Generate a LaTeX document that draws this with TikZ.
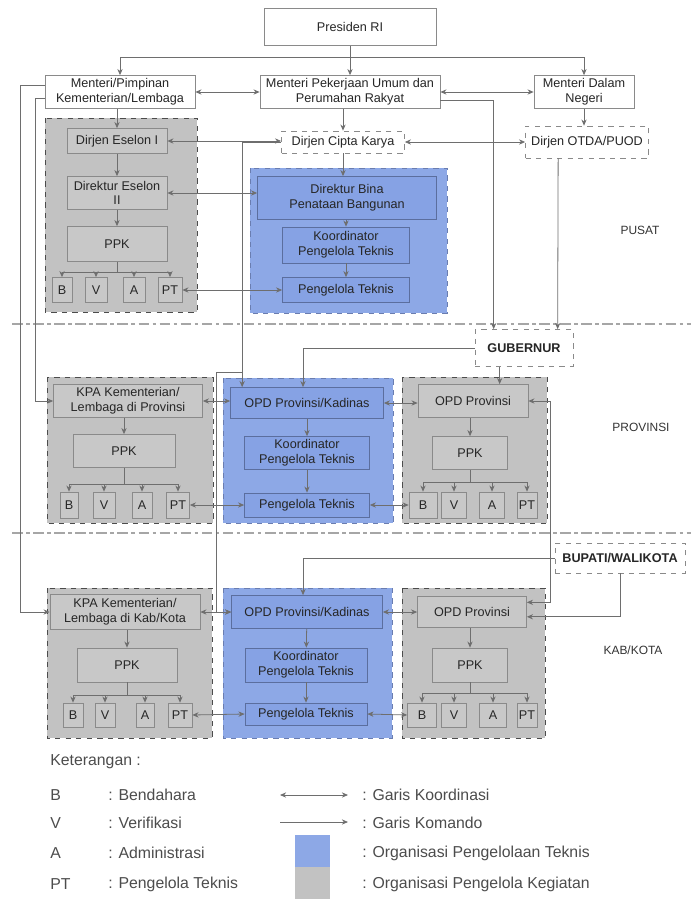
\documentclass[tikz,border=0pt]{standalone}
\usepackage{fontspec}
\setmainfont{Liberation Sans}
\usetikzlibrary{arrows.meta,calc}
\definecolor{panelgray}{HTML}{C2C2C2}
\definecolor{innergray}{HTML}{C8C8C8}
\definecolor{boxline}{HTML}{8A8A8A}
\definecolor{panelblue}{HTML}{8DA8E6}
\definecolor{innerblue}{HTML}{86A2E4}
\definecolor{blueline}{HTML}{5B6E9E}
\definecolor{blueedge}{HTML}{6A7DB0}
\definecolor{linegray}{HTML}{6E6E6E}

\begin{document}
\begin{tikzpicture}[x=0.02cm,y=-0.02cm,>={Stealth[length=3.5pt,width=3pt]},
 sz/.style 2 args={minimum width=#1*0.02cm,minimum height=#2*0.02cm},
 box/.style={draw=boxline,line width=0.4pt,align=center,inner sep=1pt,font=\fontsize{7.2}{8.4}\selectfont,text=black!85},
 topbox/.style={box,fill=white},
 graybox/.style={box,fill=innergray},
 bluebox/.style={box,fill=innerblue,draw=blueline},
 headbox/.style={topbox,dashed,font=\fontsize{7.2}{8.4}\selectfont\bfseries},
 graypanel/.style={fill=panelgray,draw=gray!60!black,dashed,line width=0.5pt},
 bluepanel/.style={fill=panelblue,draw=blueedge,dashed,line width=0.5pt},
 wire/.style={draw=linegray,line width=0.45pt},
 cmd/.style={wire,->},
 coordl/.style={wire,<->},
 divider/.style={draw=gray!70,line width=0.6pt,dash pattern=on 6pt off 2pt on 2pt off 2pt},
 zone/.style={font=\fontsize{6.8}{8}\selectfont,text=black!80},
 legtxt/.style={font=\fontsize{9}{10}\selectfont,text=black!70,inner sep=0pt,anchor=west}]
\useasboundingbox (0,0) rectangle (691,899);

% pusat
\node[topbox,sz={172}{37}] (pres) at (350,27) {Presiden RI};
\node[topbox,sz={150}{33}] (mkl) at (120,92) {Menteri/Pimpinan\\Kementerian/Lembaga};
\node[topbox,sz={180}{33}] (mpu) at (350,92) {Menteri Pekerjaan Umum dan\\Perumahan Rakyat};
\node[topbox,sz={100}{33}] (mdn) at (584,92) {Menteri Dalam\\Negeri};
\draw[graypanel] (45,118) rectangle (197,312);
\draw[bluepanel] (250,168) rectangle (447,313);
\node[graybox,sz={100}{25}] (dje) at (117,141) {Dirjen Eselon I};
\node[graybox,sz={100}{33}] (dire) at (117,193) {Direktur Eselon\\II};
\node[graybox,sz={100}{35}] (ppk1) at (117,244) {PPK};
\node[graybox,sz={20}{25}] (b1) at (62,290) {B}; \node[graybox,sz={22}{25}] (v1) at (96,290) {V}; \node[graybox,sz={22}{25}] (a1) at (134,290) {A}; \node[graybox,sz={24}{25}] (pt1) at (170,290) {PT};
\node[topbox,dashed,sz={123}{22}] (ck) at (343,142) {Dirjen Cipta Karya};
\node[topbox,dashed,sz={123}{32}] (otda) at (587,142) {Dirjen OTDA/PUOD};
\node[bluebox,sz={179}{43}] (dbpb) at (347,198) {Direktur Bina\\Penataan Bangunan};
\node[bluebox,sz={127}{36}] (kpt1) at (346,245) {Koordinator\\Pengelola Teknis};
\node[bluebox,sz={127}{25}] (pt1n) at (346,290) {Pengelola Teknis};
\node[zone] (pusat) at (640,230) {PUSAT};

\draw[divider] (12,324) -- (691,324);
\draw[divider] (12,533) -- (691,533);

% provinsi
\node[headbox,sz={98}{37}] (gub) at (524,348) {GUBERNUR};
\draw[graypanel] (47,377) rectangle (213,523);
\draw[bluepanel] (223,378) rectangle (393,523);
\draw[graypanel] (402,377) rectangle (547,523);
\node[graybox,sz={149}{33}] (kpap) at (128,401) {KPA Kementerian/\\Lembaga di Provinsi};
\node[graybox,sz={102}{33}] (ppk2) at (124,451) {PPK};
\node[graybox,sz={18}{26}] (b2) at (69,505) {B}; \node[graybox,sz={22}{26}] (v2) at (104,505) {V}; \node[graybox,sz={20}{26}] (a2) at (142,505) {A}; \node[graybox,sz={23}{26}] (pt2) at (178,505) {PT};
\node[bluebox,sz={153}{31}] (opdk) at (307,403) {OPD Provinsi/Kadinas};
\node[bluebox,sz={125}{33}] (kpt2) at (307,453) {Koordinator\\Pengelola Teknis};
\node[bluebox,sz={125}{24}] (pt2n) at (307,505) {Pengelola Teknis};
\node[graybox,sz={110}{33}] (opdp) at (473,401) {OPD Provinsi};
\node[graybox,sz={75}{33}] (ppk3) at (470,453) {PPK};
\node[graybox,sz={28}{26}] (b3) at (423,505) {B}; \node[graybox,sz={25}{26}] (v3) at (454,505) {V}; \node[graybox,sz={25}{26}] (a3) at (492,505) {A}; \node[graybox,sz={20}{26}] (pt3) at (527,505) {PT};
\node[zone] (provinsi) at (641,427) {PROVINSI};

% kab/kota
\node[headbox,sz={130}{30}] (bup) at (620,558) {BUPATI/WALIKOTA};
\draw[graypanel] (47,588) rectangle (212,738);
\draw[bluepanel] (223,588) rectangle (392,738);
\draw[graypanel] (402,588) rectangle (545,738);
\node[graybox,sz={150}{35}] (kpak) at (125,612) {KPA Kementerian/\\Lembaga di Kab/Kota};
\node[graybox,sz={100}{34}] (ppk4) at (127,665) {PPK};
\node[graybox,sz={20}{24}] (b4) at (73,715) {B}; \node[graybox,sz={20}{24}] (v4) at (105,715) {V}; \node[graybox,sz={18}{24}] (a4) at (145,715) {A}; \node[graybox,sz={24}{24}] (pt4) at (180,715) {PT};
\node[bluebox,sz={151}{33}] (opdkk) at (307,612) {OPD Provinsi/Kadinas};
\node[bluebox,sz={122}{34}] (kpt3) at (306,665) {Koordinator\\Pengelola Teknis};
\node[bluebox,sz={122}{22}] (pt3n) at (306,714) {Pengelola Teknis};
\node[graybox,sz={109}{31}] (opdp2) at (472,612) {OPD Provinsi};
\node[graybox,sz={75}{34}] (ppk5) at (470,665) {PPK};
\node[graybox,sz={29}{24}] (b5) at (422,715) {B}; \node[graybox,sz={25}{24}] (v5) at (454,715) {V}; \node[graybox,sz={27}{24}] (a5) at (493,715) {A}; \node[graybox,sz={20}{24}] (pt5) at (527,715) {PT};
\node[zone] (kabkota) at (633,650) {KAB/KOTA};

% garis pusat
\coordinate (bus) at (350,57);
\draw[wire] (pres) -- (bus);
\draw[cmd] (bus) -| (mkl.north); \draw[cmd] (bus) -- (mpu.north); \draw[cmd] (bus) -| (mdn.north);
\draw[coordl] (mkl.east) -- (mpu.west); \draw[coordl] (mpu.east) -- (mdn.west);
\draw[cmd] (mkl.south -| dje.north) -- (dje.north);
\draw[cmd] (mpu.south -| ck.north) -- (ck.north);
\draw[cmd] (mdn.south) -- (mdn.south |- otda.north);
\draw[coordl] (dje.east) -- (dje.east -| ck.west); \draw[coordl] (ck.east) -- (otda.west);
\draw[cmd] (dje) -- (dire); \draw[cmd] (dire) -- (ppk1);
\draw[wire] (ppk1.south) -- ++(0,11) coordinate (bar1);
\foreach \s in {b1,v1,a1,pt1} \draw[cmd] (bar1) -| (\s.north);
\draw[coordl] (dire.east) -- (dire.east -| dbpb.west);
\draw[cmd] (ck.south) -- (ck.south |- dbpb.north);
\draw[cmd] (dbpb.south -| kpt1.north) -- (kpt1.north); \draw[cmd] (kpt1) -- (pt1n);
\draw[coordl] (pt1.east) -- (pt1n.west);

% garis ke daerah
\draw[cmd] (mkl.175) -- ++(-24,0) |- (kpak.west);
\draw[cmd] (mkl.185) -- ++(-9,0) |- (kpap.west);
\draw[cmd] (ck.west) -| ($(opdk.north west)+(12,0)$);
\draw[cmd] ($(opdk.north west)+(12,-15)$) -| ($(opdkk.west)+(-15,0)$) -- (opdkk.west);
\draw[cmd] (mpu.-5) -| ($(gub.north west)+(19,0)$);
\draw[cmd] ($(otda.south west)+(33,0)$) -- ($(gub.north west)+(83,0)$);

% garis provinsi
\draw[cmd] ($(gub.south west)+(25,0)$) -- ($(opdp.north west)+(82,0)$);
\draw[cmd] (gub.west) -| ($(opdk.north)+(-4,0)$);
\draw[coordl] (kpap.east) -- (kpap.east -| opdk.west); \draw[coordl] (opdk.east) -- (opdk.east -| opdp.west);
\draw[cmd] (kpap.south -| ppk2.north) -- (ppk2.north);
\draw[wire] (ppk2.south) -- ++(0,17) coordinate (bar2);
\foreach \s in {b2,v2,a2,pt2} \draw[cmd] (bar2) -| (\s.north);
\draw[cmd] (opdk) -- (kpt2); \draw[cmd] (kpt2) -- (pt2n);
\draw[cmd] (opdp.south -| ppk3.north) -- (ppk3.north);
\draw[wire] (ppk3.south) -- ++(0,13) coordinate (bar3);
\foreach \s in {b3,v3,a3,pt3} \draw[cmd] (bar3) -| (\s.north);
\draw[coordl] (pt2.east) -- (pt2n.west); \draw[coordl] (pt2n.east) -- (b3.west);
\draw[coordl] (opdp.east) -- ++(22,0) |- (opdp2.10);

% garis kab/kota
\draw[cmd] (bup.west) -| ($(opdkk.north)+(-4,0)$);
\draw[cmd] (bup.south) |- (opdp2.-5);
\draw[coordl] (kpak.east) -- (opdkk.west); \draw[coordl] (opdkk.east) -- (opdp2.west);
\draw[cmd] (kpak.south -| ppk4.north) -- (ppk4.north);
\draw[wire] (ppk4.south) -- ++(0,13) coordinate (bar4);
\foreach \s in {b4,v4,a4,pt4} \draw[cmd] (bar4) -| (\s.north);
\draw[cmd] (opdkk) -- (kpt3); \draw[cmd] (kpt3) -- (pt3n);
\draw[cmd] (opdp2.south -| ppk5.north) -- (ppk5.north);
\draw[wire] (ppk5.south) -- ++(0,11) coordinate (bar5);
\foreach \s in {b5,v5,a5,pt5} \draw[cmd] (bar5) -| (\s.north);
\draw[coordl] (pt4.east) -- (pt3n.west); \draw[coordl] (pt3n.east) -- (b5.west);

% keterangan
\node[legtxt] (ket) at (50,762) {Keterangan :};
\node[legtxt] (kb) at (50,795) {B}; \node[legtxt] (kbt) at (108,795) {: Bendahara};
\node[legtxt] (kv) at (50,823) {V}; \node[legtxt] (kvt) at (108,823) {: Verifikasi};
\node[legtxt] (ka) at (50,853) {A}; \node[legtxt] (kat) at (108,853) {: Administrasi};
\node[legtxt] (kpt) at (50,884) {PT}; \node[legtxt] (kptt) at (108,884) {: Pengelola Teknis};
\coordinate (kl1) at (280,795); \coordinate (kl2) at (348,795);
\draw[coordl] (kl1) -- (kl2); \node[legtxt] (kkoor) at (362,795) {: Garis Koordinasi};
\coordinate (km1) at (280,822); \coordinate (km2) at (348,822);
\draw[cmd] (km1) -- (km2); \node[legtxt] (kkom) at (362,823) {: Garis Komando};
\node[fill=panelblue,sz={35}{32},inner sep=0pt] (kblue) at (312,851) {}; \node[legtxt] (kbluet) at (362,853) {: Organisasi Pengelolaan Teknis};
\node[fill=panelgray,sz={35}{32},inner sep=0pt] (kgray) at (312,883) {}; \node[legtxt] (kgrayt) at (362,884) {: Organisasi Pengelola Kegiatan};
\end{tikzpicture}
\end{document}
